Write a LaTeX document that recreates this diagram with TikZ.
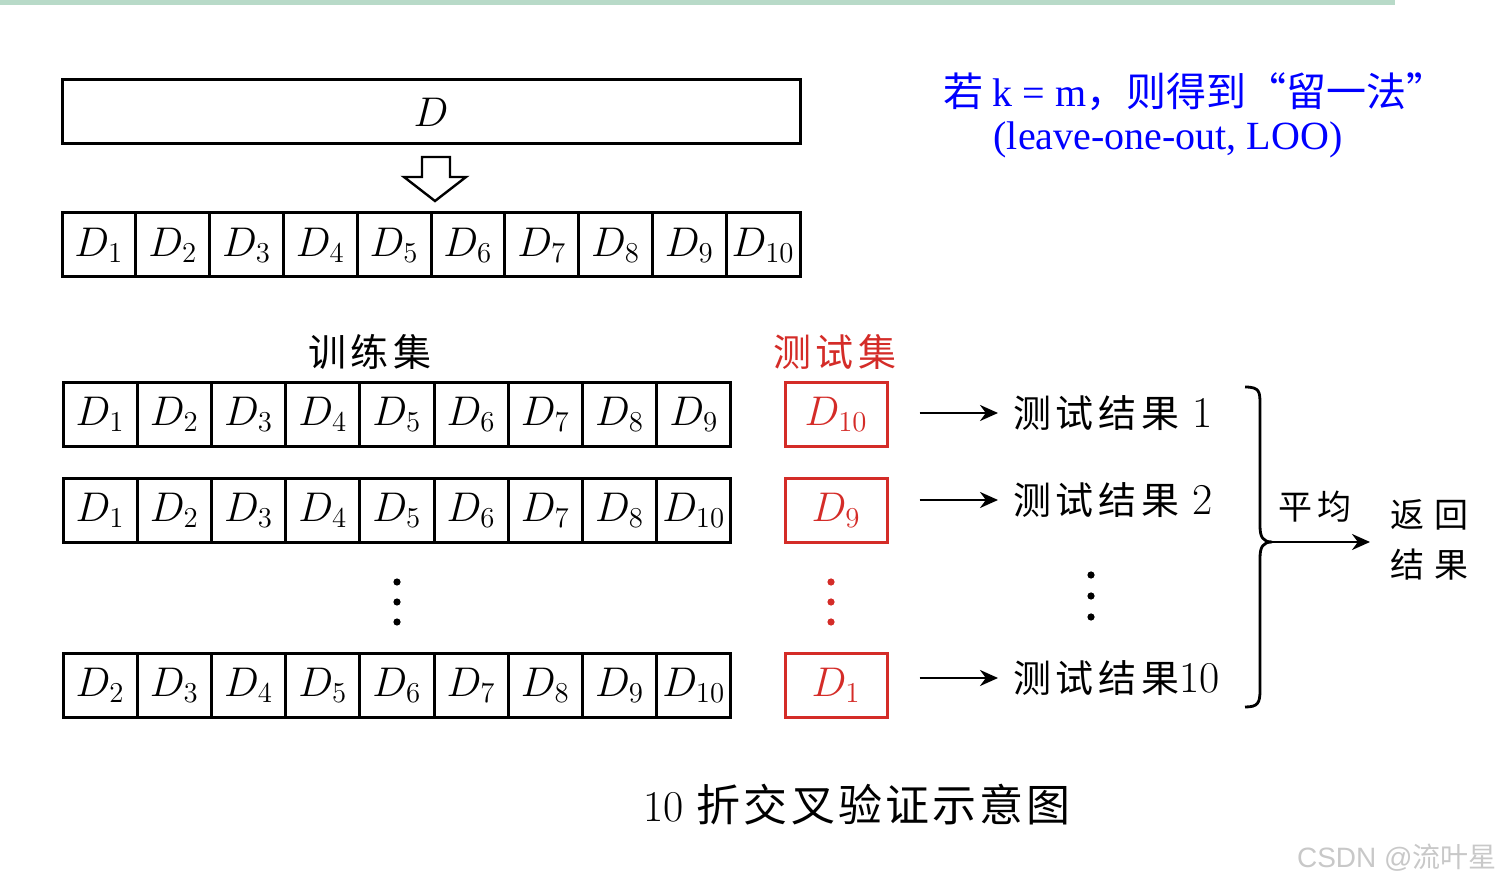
\documentclass[tikz,border=0pt]{standalone}
\usepackage{fontspec}
\usepackage{amsmath}
\usetikzlibrary{arrows.meta}
\newfontfamily\cjk[LetterSpace=12]{Noto Sans CJK SC}
\newfontfamily\cjkcap[LetterSpace=7]{Noto Sans CJK SC}
\newfontfamily\cjkwide[LetterSpace=30]{Noto Sans CJK SC}
\newfontfamily\cjkplain{Noto Sans CJK SC}
\newfontfamily\tnr{Liberation Serif}
\newfontfamily\wmfont{Liberation Sans}
\definecolor{testred}{RGB}{212,44,40}
\definecolor{topgreen}{RGB}{184,218,200}
\definecolor{wmgray}{RGB}{200,200,200}
\newcommand\resnum[1]{{\rmfamily\fontsize{22}{24}\selectfont #1}}

\tikzset{
  dcell/.style={draw, line width=1.5pt, minimum width=#1, minimum height=32pt, inner sep=0pt, font=\fontsize{20}{24}\selectfont},
  tcell/.style={dcell=51pt, draw=testred, text=testred},
  lab/.style={inner sep=0pt, font=\cjk\fontsize{19}{23}\selectfont},
  arr/.style={-{Stealth[length=9pt,width=8pt]}, line width=1.3pt},
  dot/.style={fill, inner sep=0pt, minimum size=3.6pt, circle}
}

\begin{document}
\begin{tikzpicture}[x=0.5pt,y=-0.5pt]
  \useasboundingbox (0,0) rectangle (1503,886);
  \fill[topgreen] (0,0) rectangle (1395,5);

  % data set and its ten folds
  \node[dcell=369pt] (all) at (431,112) {$D$};
  \draw[line width=1.2pt] (422,157) -- (450,157) -- (450,177) -- (466,177) -- (435,201) -- (404,177) -- (422,177) -- cycle;
  \foreach \i in {1,...,10}
    \node[dcell=36.9pt] (p\i) at ({62+73.8*(\i-0.5)},245) {$D_{\i}$};

  \node[lab] (train) at (370,352) {训练集};
  \node[lab, text=testred] (test) at (835,352) {测试集};

  % training folds
  \foreach \n [count=\i] in {1,...,9}
    \node[dcell=37.1pt] (a\i) at ({63+74.2*(\i-0.5)},414.5) {$D_{\n}$};
  \foreach \n [count=\i] in {1,2,3,4,5,6,7,8,10}
    \node[dcell=37.1pt] (b\i) at ({63+74.2*(\i-0.5)},510.5) {$D_{\n}$};
  \foreach \n [count=\i] in {2,...,10}
    \node[dcell=37.1pt] (c\i) at ({63+74.2*(\i-0.5)},685) {$D_{\n}$};

  % test folds
  \node[tcell] (t1) at (836,414.5) {$D_{10}$};
  \node[tcell] (t2) at (836,510.5) {$D_{9}$};
  \node[tcell] (t3) at (836,685) {$D_{1}$};

  \node[lab, anchor=west] (r1) at (1013,413) {测试结果\ \resnum{1}};
  \node[lab, anchor=west] (r2) at (1013,500) {测试结果\ \resnum{2}};
  \node[lab, anchor=west] (r3) at (1013,678) {测试结果\resnum{10}};

  \draw[arr, shorten <=15.5pt, shorten >=7.5pt] (t1.east |- r1.west) -- (r1.west);
  \draw[arr, shorten <=15.5pt, shorten >=7.5pt] (t2.east |- r2.west) -- (r2.west);
  \draw[arr, shorten <=15.5pt, shorten >=7.5pt] (t3.east |- r3.west) -- (r3.west);

  \foreach \y in {582,602,622} {
    \node[dot] (d\y) at (397,\y) {};
    \node[dot, testred] (e\y) at (831,\y) {};
  }
  \foreach \y in {575,596,617}
    \node[dot] (f\y) at (1091,\y) {};

  % averaging
  \coordinate (bt) at (1245,387);
  \coordinate (bb) at (1245,707);
  \coordinate (tip) at (1272,542);
  \draw[line width=1.4pt] (bt) .. controls (1260,387) and (1260,392) .. (1260,405) -- (1260,526)
    .. controls (1260,537) and (1263,542) .. (tip) .. controls (1263,542) and (1260,547) .. (1260,558)
    -- (1260,690) .. controls (1260,703) and (1258,707) .. (bb);
  \node[lab, font=\cjk\fontsize{17}{21}\selectfont] (avg) at (1315,507) {平均};
  \node[inner sep=0pt, anchor=west, align=left, font=\cjkwide\fontsize{17}{25}\selectfont] (ret) at (1390,540) {返回\\结果};
  \draw[arr, shorten >=10pt] (tip) -- (ret.west |- tip);

  \node[inner sep=0pt, font=\cjkcap\fontsize{22}{26}\selectfont] (cap) at (857,805) {{\rmfamily 10}\ 折交叉验证示意图};

  \node[inner sep=0pt, text=blue, font=\fontsize{20}{24}\selectfont] (note1) at (1195,92) {\cjkplain 若 \tnr k = m\cjkplain，则得到“留一法”};
  \node[inner sep=0pt, text=blue, font=\tnr\fontsize{20}{24}\selectfont] (note2) at (1168,140) {(leave-one-out, LOO)};

  \node[inner sep=0pt, anchor=east, text=wmgray, font=\wmfont\fontsize{14}{16}\selectfont] (wm) at (1497,858) {CSDN @{\cjkplain 流叶星}};
\end{tikzpicture}
\end{document}
